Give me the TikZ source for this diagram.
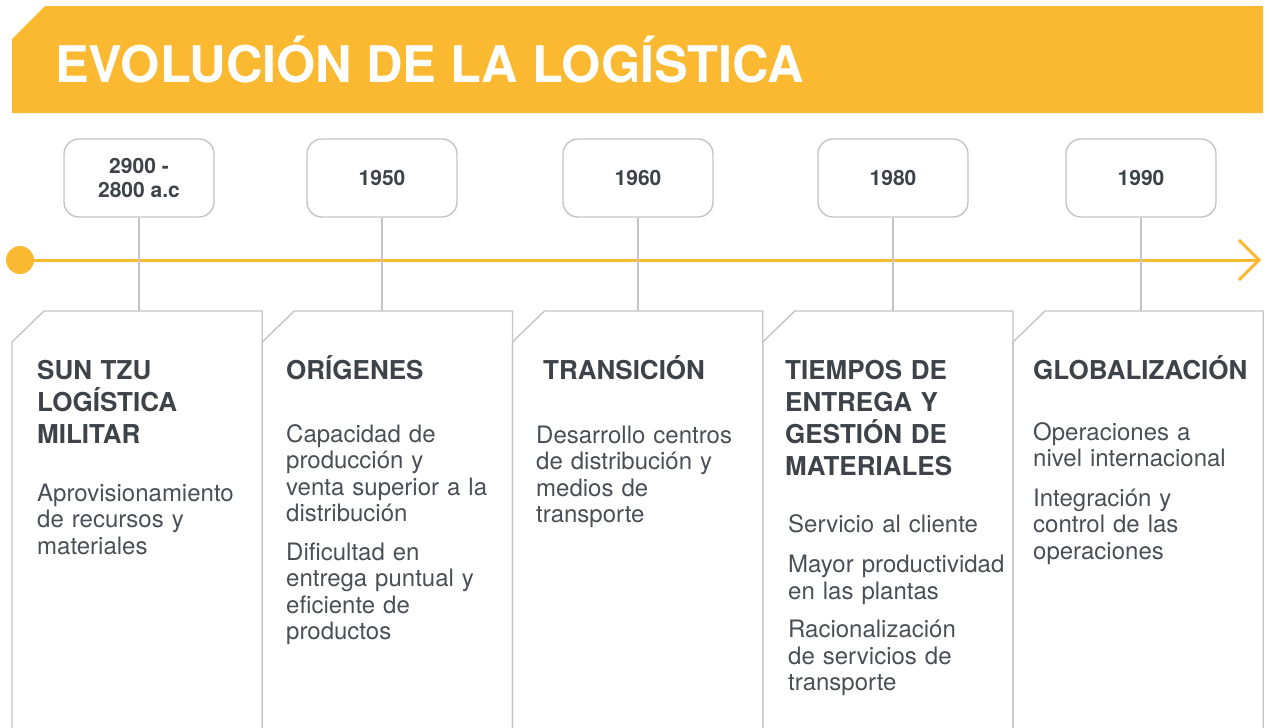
\documentclass[tikz,border=0pt]{standalone}
\usepackage{fontspec}
\setmainfont{TeX Gyre Heros}
\usepackage{xcolor}
\usetikzlibrary{positioning,arrows.meta}
\definecolor{BrandYellow}{HTML}{FBB931}
\definecolor{LineGray}{HTML}{C4C4C4}
\definecolor{TextDark}{HTML}{3E434A}
\definecolor{TextBody}{HTML}{4B4F55}
\tikzset{
  yearbox/.style={draw=LineGray, line width=1.4pt, fill=white, rounded corners=15pt,
    minimum width=150pt, minimum height=78pt, align=center, text=TextDark,
    font=\bfseries\fontsize{21}{24}\selectfont},
  cardhead/.style={anchor=base west, inner sep=0pt, text width=240pt, align=left,
    text=TextDark, font=\bfseries\fontsize{26}{32}\selectfont},
  cardbody/.style={anchor=base west, inner sep=0pt, text width=240pt, align=left,
    text=TextBody, font=\fontsize{24}{26.5}\selectfont},
  stem/.style={draw=LineGray, line width=1.4pt}
}
\begin{document}
\begin{tikzpicture}[x=1pt,y=-1pt]
  \clip (0,0) rectangle (1269,728);
  % banner
  \fill[BrandYellow] (12,39) -- (45,6) -- (1263,6) -- (1263,113) -- (12,113) -- cycle;
  \node[anchor=base west, inner sep=0pt, text=white, font=\bfseries\fontsize{50.5}{50.5}\selectfont]
    (title) at (55,82) {EVOLUCIÓN DE LA LOGÍSTICA};
  % timeline
  \node[circle, fill=BrandYellow, minimum size=28pt, inner sep=0pt] (start) at (20,260) {};
  \coordinate (end) at (1261,260);
  \draw[BrandYellow, line width=3pt, -{Straight Barb[length=20pt, width=40pt]}] (start.center) -- (end);
  % cards
  \foreach \i/\x/\yx/\yr/\hx/\hd/\bx/\by/\bd in {
    1/12/139/{2900 -\\2800 a.c}/37/{SUN TZU\\LOGÍSTICA\\MILITAR}/37/501/{Aprovisionamiento\\de recursos y\\materiales},
    2/262.25/382/{1950}/286/{ORÍGENES}/286/442/{Capacidad de\\producción y\\venta superior a la\\distribución\\[12pt]Dificultad en\\entrega puntual y\\eficiente de\\productos},
    3/512.5/638/{1960}/543/{TRANSICIÓN}/536/443/{Desarrollo centros\\de distribución y\\medios de\\transporte},
    4/762.75/893/{1980}/785/{TIEMPOS DE\\ENTREGA Y\\GESTIÓN DE\\MATERIALES}/788/532/{Servicio al cliente\\[14pt]Mayor productividad\\en las plantas\\[12pt]Racionalización\\de servicios de\\transporte},
    5/1013/1141/{1990}/1033/{GLOBALIZACIÓN}/1033/440/{Operaciones a\\nivel internacional\\[13pt]Integración y\\control de las\\operaciones}
  }{
    \draw[stem] (\x,740) -- (\x,342) -- (\x+32,311) -- (\x+250.25,311) -- (\x+250.25,740);
    \node[yearbox] (year\i) at (\yx,178) {\yr};
    \coordinate (top\i) at (\yx,311);
    \draw[stem] (year\i) -- (top\i);
    \node[cardhead] (head\i) at (\hx,379) {\hd};
    \node[cardbody] (body\i) at (\bx,\by) {\bd};
  }
\end{tikzpicture}
\end{document}
